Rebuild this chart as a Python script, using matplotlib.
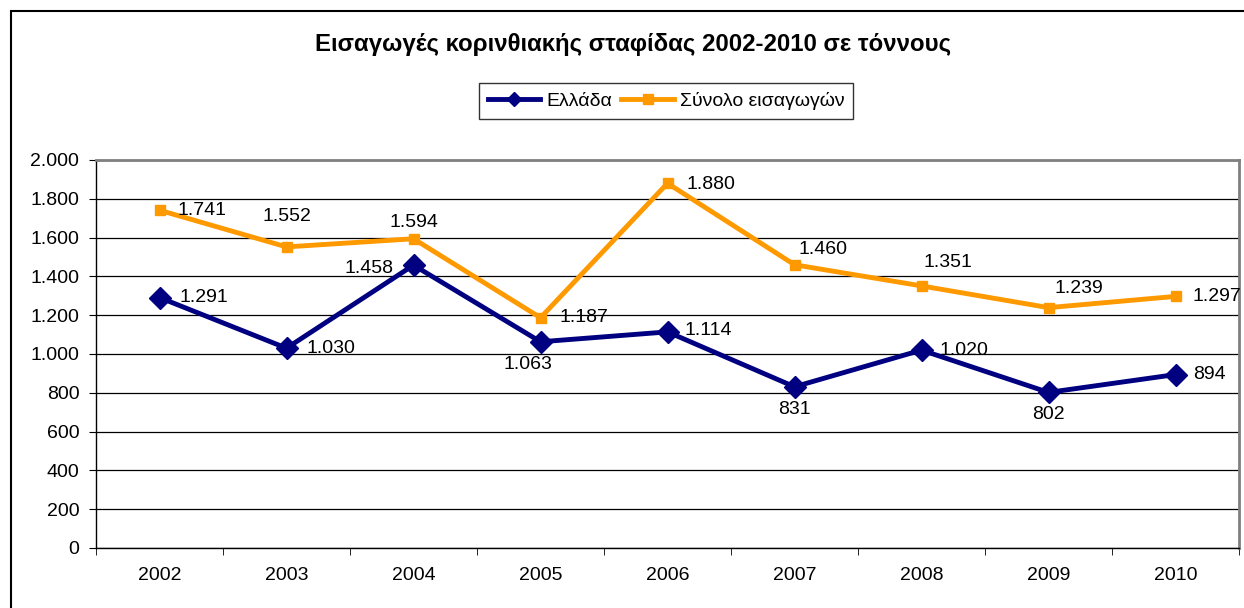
import matplotlib
matplotlib.use('Agg')
import matplotlib.pyplot as plt
from matplotlib.patches import Rectangle
from matplotlib.ticker import FuncFormatter

plt.rcParams['font.family'] = ['Liberation Sans', 'DejaVu Sans']

years = ['2002', '2003', '2004', '2005', '2006', '2007', '2008', '2009', '2010']
greece = [1291, 1030, 1458, 1063, 1114, 831, 1020, 802, 894]
total = [1741, 1552, 1594, 1187, 1880, 1460, 1351, 1239, 1297]

# label offsets in pixels (dx, dy, ha)
greece_off = [(20, 0, 'left'), (20, 0, 'left'), (-20, -3, 'right'), (-13, -23, 'center'),
              (17, 1, 'left'), (0, -23, 'center'), (18, 0, 'left'), (0, -22, 'center'),
              (18, 0, 'left')]
total_off = [(18, 0, 'left'), (0, 30, 'center'), (0, 16, 'center'), (19, 0, 'left'),
             (19, -1, 'left'), (28, 15, 'center'), (26, 23, 'center'), (30, 19, 'center'),
             (17, 0, 'left')]


def gr_fmt(v, pos=None):
    return '{:,.0f}'.format(v).replace(',', '.')


fig = plt.figure(figsize=(12.44, 6.08), dpi=100)
fig.patches.append(Rectangle((11 / 1244, -0.1), 1.2, (608 - 11) / 608 + 0.1,
                             transform=fig.transFigure, fill=False,
                             edgecolor='black', linewidth=1.5))

ax = fig.add_axes([96 / 1244, (608 - 548) / 608, (1239 - 96) / 1244, (548 - 160) / 608])
x = list(range(len(years)))

ax.plot(x, greece, color='#000080', linewidth=3.5, marker='D', markersize=11,
        label='Ελλάδα', zorder=3)
ax.plot(x, total, color='#FF9900', linewidth=3.5, marker='s', markersize=7,
        label='Σύνολο εισαγωγών', zorder=3)

for i in x:
    dx, dy, ha = greece_off[i]
    ax.annotate(gr_fmt(greece[i]), (i, greece[i]), xytext=(dx, dy),
                textcoords='offset pixels', ha=ha, va='center', fontsize=14)
    dx, dy, ha = total_off[i]
    ax.annotate(gr_fmt(total[i]), (i, total[i]), xytext=(dx, dy),
                textcoords='offset pixels', ha=ha, va='center', fontsize=14)

ax.set_xlim(-0.5, len(years) - 0.5)
ax.set_ylim(0, 2000)
ax.set_yticks(range(0, 2001, 200))
ax.yaxis.set_major_formatter(FuncFormatter(gr_fmt))
ax.set_xticks(x)
ax.set_xticklabels(years)
ax.set_xticks([i + 0.5 for i in range(-1, len(years))], minor=True)
ax.tick_params(axis='x', which='major', length=0, pad=14, labelsize=14)
ax.tick_params(axis='x', which='minor', length=5, direction='out', color='black')
ax.tick_params(axis='y', length=5, direction='out', labelsize=14, pad=7)
ax.grid(axis='y', color='black', linewidth=0.9)
ax.set_axisbelow(True)
for side in ['top', 'right']:
    ax.spines[side].set_color('#808080')
    ax.spines[side].set_linewidth(2)
for side in ['left', 'bottom']:
    ax.spines[side].set_color('black')
    ax.spines[side].set_linewidth(1)

fig.text(633 / 1244, 1 - 45 / 608, 'Εισαγωγές κορινθιακής σταφίδας 2002-2010 σε τόννους',
         ha='center', va='center', fontsize=17.3, fontweight='bold')

leg = fig.legend(loc='center', bbox_to_anchor=(666 / 1244, 1 - 101 / 608), ncol=2,
                 frameon=True, fancybox=False, fontsize=14, handlelength=2.7,
                 columnspacing=0.5, handletextpad=0.3, borderpad=0.45)
leg.get_frame().set_edgecolor('black')
leg.get_frame().set_linewidth(1)
for h in leg.legend_handles:
    h.set_markersize(7)

fig.savefig('out.png', dpi=100)
